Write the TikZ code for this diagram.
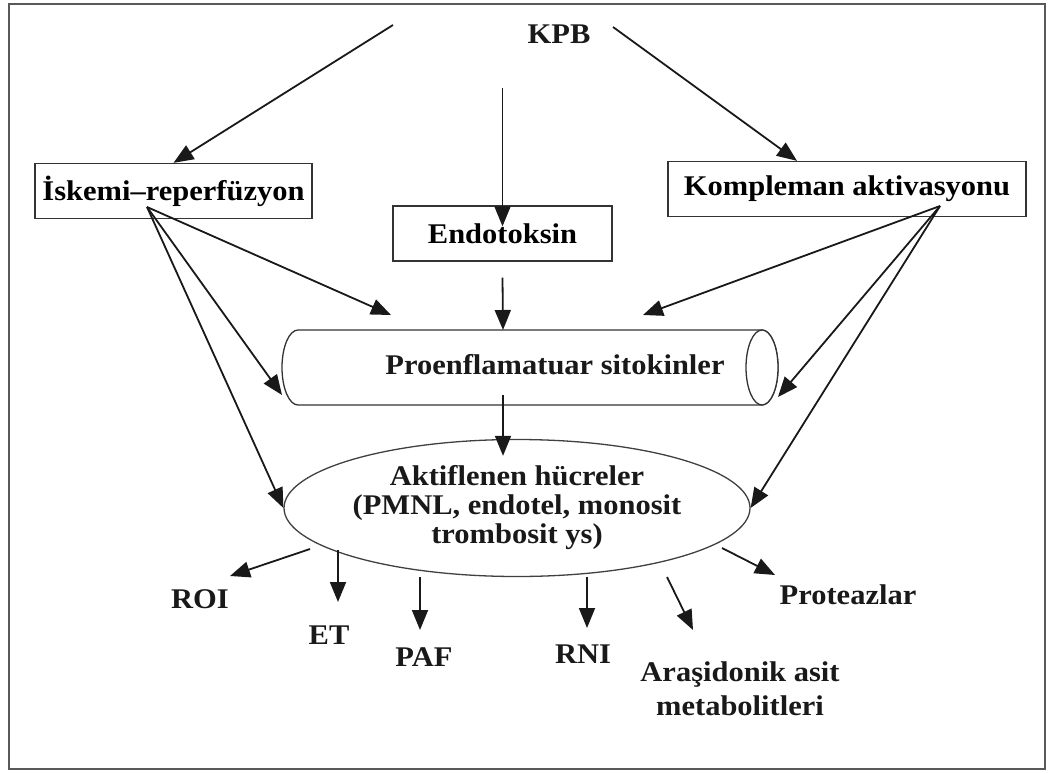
\documentclass[tikz,border=0pt]{standalone}
\usepackage{fontspec}
\setmainfont[FakeStretch=1.07]{Liberation Serif}
\usetikzlibrary{arrows.meta}
\usetikzlibrary{positioning,shapes.geometric}
\tikzset{
    box/.style={
        draw=black!80,
        line width=1.3pt,
        fill=white,
        inner sep=0pt,
        minimum height=55pt,
        font=\bfseries\fontsize{28.5}{29}\selectfont
    },
    lbl/.style={
        font=\bfseries\fontsize{28.5}{29}\selectfont,
        text=black!90,
        inner sep=0pt,
        align=center
    },
    arr/.style={
        draw=black!90,
        line width=1.8pt,
        -{Triangle[length=20pt, width=16pt]}
    },
    tube/.style={
        draw=black!80,
        line width=1.3pt,
        fill=white
    }
}

\begin{document}
\begin{tikzpicture}[x=1pt,y=-1pt]
  \useasboundingbox (0,0) rectangle (1051,773);
  \draw[black!65, line width=2.2pt] (9,4) rectangle (1045,769);

  % Nodes
  \node[lbl] (kpb) at (559,34) {KPB};
  \node[box, minimum width=277pt] (isk) at (173.5,191) {İskemi–reperfüzyon};
  \node[box, minimum width=219pt] (endo) at (502.5,233.5) {Endotoksin};
  \node[box, minimum width=358pt] (komp) at (847,189) {Kompleman aktivasyonu};

  % cylinder
  \draw[tube] (298,330) -- (762,330)
    arc[start angle=-90, end angle=90, x radius=16, y radius=37.5]
    -- (298,405)
    arc[start angle=90, end angle=270, x radius=16, y radius=37.5] -- cycle;
  \draw[tube] (762,367.5) ellipse[x radius=16, y radius=37.5];
  \node[lbl] (cyl) at (555,365) {Proenflamatuar sitokinler};

  \node[ellipse, draw=black!75, line width=1.3pt, fill=white, lbl,
        minimum width=466pt, minimum height=137pt] (ell) at (517,508)
        {Aktiflenen hücreler\\(PMNL, endotel, monosit\\trombosit ys)};
  \node[lbl] (roi) at (200,599) {ROI};
  \node[lbl] (et) at (329,635) {ET};
  \node[lbl] (paf) at (424,657) {PAF};
  \node[lbl] (rni) at (583,654) {RNI};
  \node[lbl] (ara) at (740,689) {Araşidonik asit\\[5pt]metabolitleri};
  \node[lbl] (prot) at (848,595) {Proteazlar};

  % Arrow ends
  \coordinate (kpb-l) at (393,25);
  \coordinate (kpb-r) at (613,27);
  \coordinate (kpb-d) at (502.5,88);
  \coordinate (isk-o) at (147,207);
  \coordinate (komp-o) at (940,206);
  \coordinate (cyl-t) at (503,330);
  \coordinate (cyl-tl) at (391,315);
  \coordinate (cyl-l) at (282,395);
  \coordinate (cyl-tr) at (643,315);
  \coordinate (cyl-r) at (778,397);
  \coordinate (cyl-b) at (503,395);
  \coordinate (roi-t) at (310,549);
  \coordinate (roi-h) at (230,576);
  \coordinate (et-t) at (338,550);
  \coordinate (et-h) at (338,602);
  \coordinate (paf-t) at (420,577);
  \coordinate (paf-h) at (420,630);
  \coordinate (rni-t) at (587,577);
  \coordinate (rni-h) at (587,628);
  \coordinate (ara-t) at (667,577);
  \coordinate (ara-h) at (693,630);
  \coordinate (prot-t) at (722,548);
  \coordinate (prot-h) at (775,575);

  % KPB
  \draw[arr] (kpb-l) -- (isk.north);
  \draw[arr] (kpb-r) -- ([xshift=-50pt]komp.north);
  \draw[arr] (kpb-d) -- ([yshift=-21pt]endo.north);

  % into the cylinder
  \draw[arr] ([yshift=-16pt]endo.south) -- (cyl-t);
  \draw[arr] (isk-o) -- (cyl-tl);
  \draw[arr] (isk-o) -- (cyl-l);
  \draw[arr] (komp-o) -- (cyl-tr);
  \draw[arr] (komp-o) -- (cyl-r);

  % into the cells
  \draw[arr] (isk-o) -- (ell.west);
  \draw[arr] (komp-o) -- (ell.east);
  \draw[arr] (cyl-b) -- ([xshift=-14pt,yshift=-17pt]ell.north);

  % products
  \draw[arr] (roi-t) -- (roi-h);
  \draw[arr] (et-t) -- (et-h);
  \draw[arr] (paf-t) -- (paf-h);
  \draw[arr] (rni-t) -- (rni-h);
  \draw[arr] (ara-t) -- (ara-h);
  \draw[arr] (prot-t) -- (prot-h);
\end{tikzpicture}
\end{document}
